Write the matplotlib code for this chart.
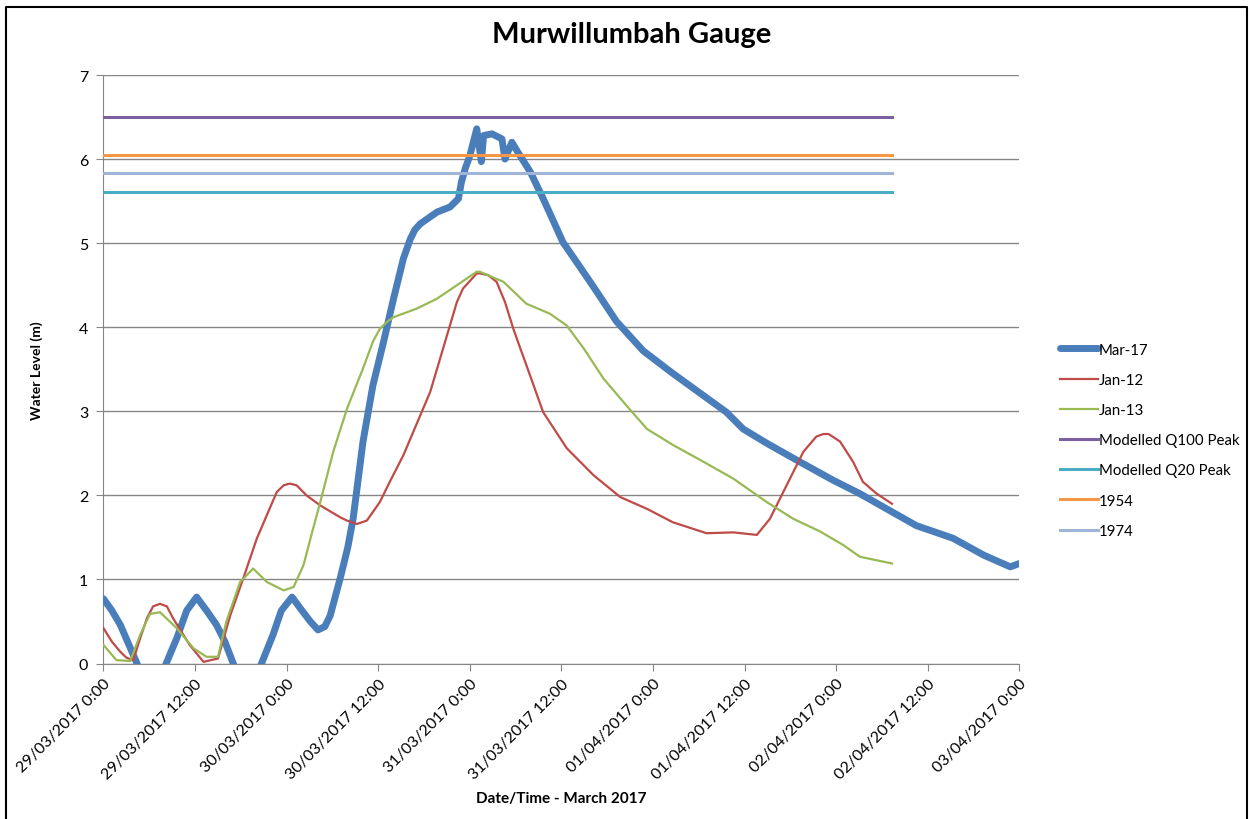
import matplotlib.pyplot as plt
import numpy as np
from matplotlib.lines import Line2D

plt.rcParams['font.family'] = ['Lato', 'DejaVu Sans']

# hours after 29/03/2017 0:00, water level in metres
mar17_t = [0.0, 1.1, 2.2, 4.3, 6.3, 8.3, 9.6, 10.9, 12.2, 13.5, 14.8, 15.9, 17.0, 18.8,
           20.7, 22.2, 23.3, 24.7, 26.0, 27.1, 28.1, 29.0, 29.7, 31.0, 32.0, 32.7,
           34.0, 35.3, 36.7, 38.0, 39.3, 40.2, 40.8, 41.5, 43.7, 45.4, 46.5, 46.9,
           47.4, 48.0, 48.9, 49.5, 49.8, 50.9, 52.2, 52.6, 53.5, 54.3, 55.9, 57.6,
           60.2, 62.4, 64.2, 67.2, 70.7, 74.6, 78.1, 81.6, 83.8, 86.9, 91.2, 95.6,
           99.1, 102.6, 106.5, 111.3, 115.3, 118.8, 120.0]
mar17_v = [0.77, 0.63, 0.46, 0.02, -0.45, 0.02, 0.30, 0.63, 0.79, 0.63, 0.46, 0.26, 0.0, -0.4,
           0.0, 0.34, 0.63, 0.79, 0.63, 0.50, 0.40, 0.44, 0.57, 1.01, 1.38, 1.72,
           2.64, 3.31, 3.83, 4.34, 4.82, 5.05, 5.16, 5.23, 5.37, 5.43, 5.53, 5.73,
           5.89, 6.04, 6.36, 5.97, 6.28, 6.30, 6.24, 6.00, 6.20, 6.08, 5.85, 5.53,
           5.01, 4.72, 4.48, 4.07, 3.72, 3.45, 3.22, 2.99, 2.79, 2.62, 2.40, 2.18,
           2.02, 1.84, 1.64, 1.49, 1.29, 1.15, 1.19]

jan12_t = [0.0, 1.1, 2.2, 3.0, 3.9, 4.8, 5.7, 6.5, 7.4, 8.3, 9.1, 11.3, 13.1, 15.0,
           16.6, 18.3, 20.1, 22.7, 23.6, 24.4, 25.3, 26.6, 28.4, 31.0, 31.9, 33.2,
           34.5, 36.2, 37.5, 39.3, 42.8, 46.3, 47.1, 48.9, 49.3, 50.4, 51.5, 52.6,
           53.7, 54.6, 55.4, 57.6, 60.7, 64.2, 67.7, 71.2, 74.6, 79.0, 82.5, 85.6,
           86.4, 87.3, 89.5, 91.7, 93.4, 94.3, 95.0, 96.5, 98.2, 99.5, 101.3, 103.3]
jan12_v = [0.42, 0.26, 0.14, 0.07, 0.04, 0.30, 0.54, 0.68, 0.71, 0.68, 0.54, 0.22, 0.02, 0.06,
           0.57, 1.01, 1.49, 2.04, 2.12, 2.14, 2.12, 2.00, 1.88, 1.74, 1.70, 1.66,
           1.70, 1.92, 2.16, 2.48, 3.23, 4.30, 4.46, 4.64, 4.64, 4.62, 4.54, 4.30,
           3.98, 3.75, 3.55, 2.99, 2.56, 2.24, 1.98, 1.84, 1.68, 1.55, 1.56, 1.53,
           1.62, 1.72, 2.12, 2.52, 2.70, 2.73, 2.73, 2.64, 2.40, 2.16, 2.02, 1.90]

jan13_t = [0.0, 1.7, 3.5, 4.8, 6.1, 7.4, 9.6, 11.8, 13.5, 15.0, 16.1, 17.9, 19.6,
           21.4, 23.6, 24.9, 26.2, 27.3, 28.4, 30.1, 31.9, 34.0, 35.3, 36.2, 37.1,
           38.0, 41.0, 43.7, 46.3, 48.9, 49.3, 52.4, 55.4, 58.5, 60.7, 62.9, 65.5,
           68.5, 71.2, 74.6, 78.6, 82.5, 86.9, 90.4, 93.9, 96.9, 99.1, 103.3]
jan13_v = [0.22, 0.04, 0.03, 0.34, 0.59, 0.61, 0.42, 0.18, 0.08, 0.08, 0.50, 0.97, 1.13,
           0.97, 0.87, 0.91, 1.17, 1.55, 1.92, 2.52, 3.03, 3.51, 3.83, 3.98, 4.06,
           4.12, 4.22, 4.34, 4.50, 4.66, 4.66, 4.54, 4.28, 4.16, 4.02, 3.75, 3.39,
           3.07, 2.79, 2.60, 2.40, 2.20, 1.92, 1.72, 1.57, 1.41, 1.27, 1.19]

# reference flood levels, drawn over the same span as the Jan records
ref_names = ['Modelled Q100 Peak', 'Modelled Q20 Peak', '1954', '1974']
ref_levels = [6.50, 5.61, 6.05, 5.83]
ref_span = [0.0, 103.3]

tick_hours = [0, 12, 24, 36, 48, 60, 72, 84, 96, 108, 120]
tick_labels = ['29/03/2017 0:00', '29/03/2017 12:00', '30/03/2017 0:00',
               '30/03/2017 12:00', '31/03/2017 0:00', '31/03/2017 12:00',
               '01/04/2017 0:00', '01/04/2017 12:00', '02/04/2017 0:00',
               '02/04/2017 12:00', '03/04/2017 0:00']

fig = plt.figure(figsize=(12.53, 8.2), dpi=100)
ax = fig.add_axes([0.0826, 0.1896, 0.731, 0.7177])

ax.plot(mar17_t, mar17_v, color='#4A7EBB', lw=5, solid_capstyle='round',
        solid_joinstyle='round', label='Mar-17', zorder=3)
ax.plot(jan12_t, jan12_v, color='#BE4B48', lw=1.6, label='Jan-12', zorder=4)
ax.plot(jan13_t, jan13_v, color='#98B954', lw=1.6, label='Jan-13', zorder=5)
ref_colors = ['#7D60A0', '#4BACC6', '#F79646', '#A0B4D8']
for i, (name, lev) in enumerate(zip(ref_names, ref_levels)):
    ax.plot(ref_span, [lev, lev], color=ref_colors[i], lw=2.2, label=name, zorder=6 + i)

ax.set_xlim(0, 120)
ax.set_ylim(0, 7)
ax.set_yticks(range(8))
ax.set_xticks(tick_hours)
ax.set_xticklabels(tick_labels, rotation=45, ha='right', va='top',
                   rotation_mode='anchor', fontsize=11.5)
ax.tick_params(axis='y', labelsize=11.5, length=5, color='#868686', pad=6)
ax.tick_params(axis='x', length=5, color='#868686', pad=4)
ax.grid(axis='y', color='#868686', lw=1)
ax.set_axisbelow(True)
for side in ['top', 'right']:
    ax.spines[side].set_visible(False)
for side in ['left', 'bottom']:
    ax.spines[side].set_color('#868686')

fig.text(0.504, 0.957, 'Murwillumbah Gauge', fontsize=21, fontweight='bold',
         ha='center', va='center')
ax.set_ylabel('Water Level (m)', fontsize=10, fontweight='bold', labelpad=26)
ax.set_xlabel('Date/Time - March 2017', fontsize=11, fontweight='bold', labelpad=7)

handles, labels = ax.get_legend_handles_labels()
leg = fig.legend(handles, labels, loc='center left', bbox_to_anchor=(0.835, 0.462),
                 frameon=False, fontsize=10.8, handlelength=2.55, handletextpad=0.05,
                 labelspacing=1.08)

# outer border
fig.add_artist(Line2D([0.005, 0.005, 0.995, 0.995], [0.0, 0.99, 0.99, 0.0],
                      transform=fig.transFigure, color='black', lw=1.5))

fig.savefig('out.png', dpi=100)
